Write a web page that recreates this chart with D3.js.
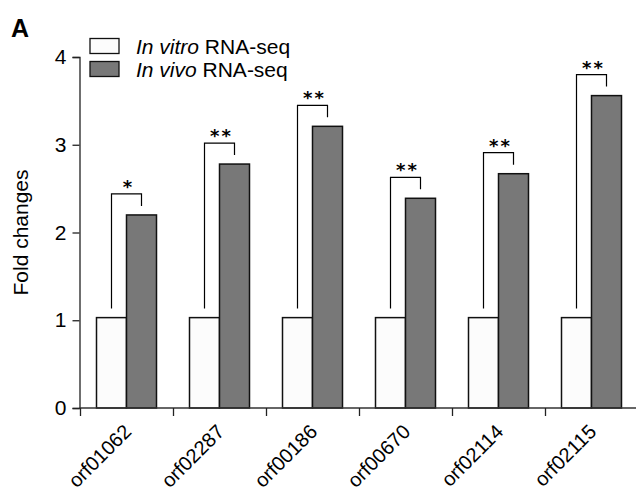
<!DOCTYPE html>
<html>
<head>
<meta charset="utf-8">
<script src="https://cdn.jsdelivr.net/npm/d3@7"></script>
<style>
  body { margin: 0; background: #fff; }
  svg { display: block; font-family: "Liberation Sans", Arial, sans-serif; }
</style>
</head>
<body>
<svg id="chart" width="636" height="492"></svg>
<script>
// data
const genes = ["orf01062", "orf02287", "orf00186", "orf00670", "orf02114", "orf02115"];
const inVitro = [1.03, 1.03, 1.03, 1.03, 1.03, 1.03];
const inVivo = [2.20, 2.78, 3.21, 2.39, 2.67, 3.56];
const stars = ["*", "**", "**", "**", "**", "**"];
const yTicks = [0, 1, 2, 3, 4];

const svg = d3.select("#chart");

// scales
const x = d3.scaleBand()
    .domain(genes)
    .range([80, 638])
    .padding(0);
const x1 = d3.scaleBand()
    .domain(["vitro", "vivo"])
    .range([0, x.bandwidth()])
    .paddingInner(0)
    .paddingOuter(0.55);
const y = d3.scaleLinear()
    .domain([0, 4])
    .range([408, 57]);

const data = genes.map((g, i) => ({ gene: g, vitro: inVitro[i], vivo: inVivo[i], star: stars[i] }));

// bars
const groups = svg.selectAll("g.grp")
    .data(data)
    .enter()
    .append("g")
    .attr("class", "grp")
    .attr("transform", d => `translate(${x(d.gene)},0)`);

groups.append("rect")
    .attr("x", x1("vitro"))
    .attr("y", d => y(d.vitro))
    .attr("width", x1.bandwidth())
    .attr("height", d => y(0) - y(d.vitro))
    .attr("fill", "#fcfcfc")
    .attr("stroke", "#111")
    .attr("stroke-width", 1.5);

groups.append("rect")
    .attr("x", x1("vivo"))
    .attr("y", d => y(d.vivo))
    .attr("width", x1.bandwidth())
    .attr("height", d => y(0) - y(d.vivo))
    .attr("fill", "#787878")
    .attr("stroke", "#111")
    .attr("stroke-width", 1.5);

// significance brackets
const legGap = 9, topGap = 21;
groups.append("path")
    .attr("fill", "none")
    .attr("stroke", "#000")
    .attr("stroke-width", 1.2)
    .attr("d", d => {
        const xa = x1("vitro") + x1.bandwidth() / 2;
        const xb = x1("vivo") + x1.bandwidth() / 2;
        const top = y(d.vivo) - topGap;
        return `M${xa},${y(d.vitro) - legGap}V${top}H${xb}V${y(d.vivo) - legGap}`;
    });

groups.append("text")
    .attr("x", x.bandwidth() / 2 + 2)
    .attr("y", d => y(d.vivo) - topGap - 1)
    .attr("text-anchor", "middle")
    .style("font-family", "'DejaVu Sans', sans-serif")
    .style("font-size", "18px")
    .style("font-weight", "bold")
    .style("letter-spacing", "2px")
    .text(d => d.star);

// y axis
const yAxis = svg.append("g")
    .attr("transform", "translate(79.5,0)")
    .call(d3.axisLeft(y).tickValues(yTicks).tickFormat(d3.format("d")).tickSize(7).tickPadding(6));
yAxis.selectAll("text").style("font-size", "21px").attr("fill", "#000");
yAxis.selectAll("line, path").attr("stroke", "#222").attr("stroke-width", 1.3);

// x axis: ticks at band edges, labels rotated at band centers
const xAxis = svg.append("g");
xAxis.append("line")
    .attr("x1", 79.5).attr("x2", 636)
    .attr("y1", y(0)).attr("y2", y(0))
    .attr("stroke", "#333").attr("stroke-width", 1.5);
xAxis.selectAll("line.tick")
    .data(genes)
    .enter()
    .append("line")
    .attr("class", "tick")
    .attr("x1", d => Math.round(x(d)) + 0.5)
    .attr("x2", d => Math.round(x(d)) + 0.5)
    .attr("y1", y(0))
    .attr("y2", y(0) + 8)
    .attr("stroke", "#222")
    .attr("stroke-width", 1.3);
xAxis.selectAll("text")
    .data(genes)
    .enter()
    .append("text")
    .attr("transform", d => `translate(${x(d) + x.bandwidth() / 2 + 6},${y(0) + 25}) rotate(-45)`)
    .attr("text-anchor", "end")
    .style("font-size", "20px")
    .text(d => d);

// y label
svg.append("text")
    .attr("transform", `translate(28,${y(2)}) rotate(-90)`)
    .attr("text-anchor", "middle")
    .style("font-size", "21px")
    .text("Fold changes");

// panel letter
svg.append("text")
    .attr("x", 11)
    .attr("y", 37)
    .style("font-size", "25px")
    .style("font-weight", "bold")
    .text("A");

// legend
const legend = [
    { name: "In vitro", fill: "#fcfcfc" },
    { name: "In vivo", fill: "#787878" }
];
const lg = svg.selectAll("g.leg")
    .data(legend)
    .enter()
    .append("g")
    .attr("class", "leg")
    .attr("transform", (d, i) => `translate(90,${38.5 + i * 23})`);
lg.append("rect")
    .attr("width", 29)
    .attr("height", 15)
    .attr("fill", d => d.fill)
    .attr("stroke", "#111")
    .attr("stroke-width", 1.3);
const lt = lg.append("text")
    .attr("x", 46)
    .attr("y", 15.5)
    .style("font-size", "21px");
lt.append("tspan").style("font-style", "italic").text(d => d.name);
lt.append("tspan").text(" RNA-seq");
</script>
</body>
</html>
